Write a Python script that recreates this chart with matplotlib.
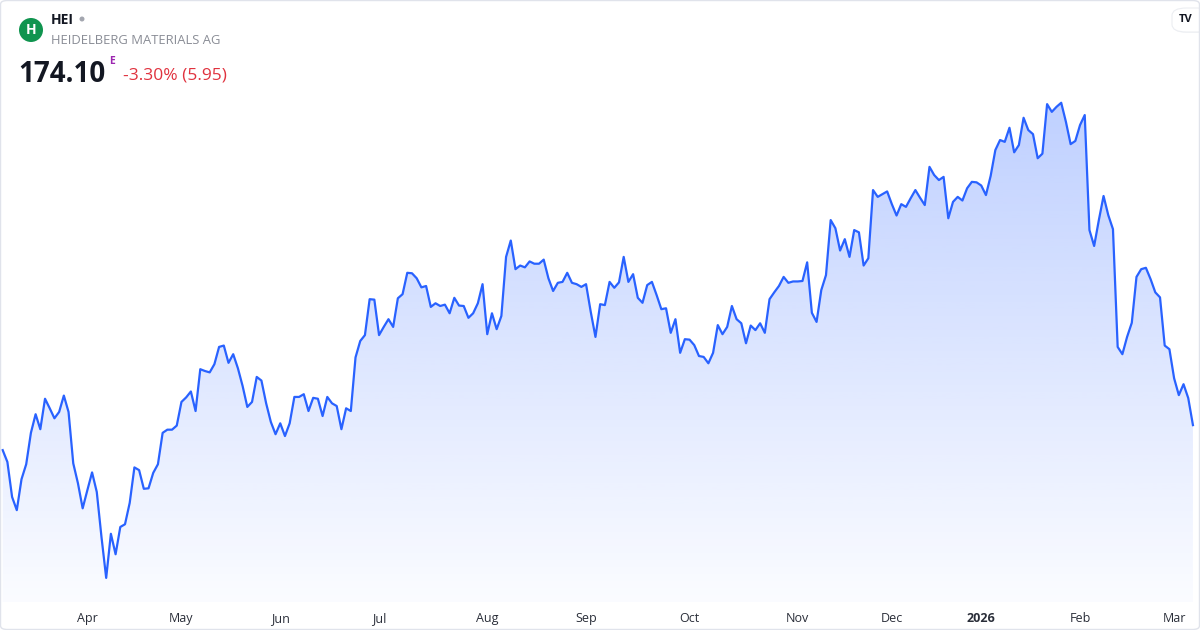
import numpy as np
import pandas as pd
import matplotlib
matplotlib.use('Agg')
import matplotlib.pyplot as plt
from matplotlib.patches import Circle, FancyBboxPatch, Polygon

plt.rcParams['font.family'] = ['Open Sans', 'DejaVu Sans']

ticker = 'HEI'
company = 'HEIDELBERG MATERIALS AG'
last_price = 174.10
change_pct = -3.30
change_abs = 5.95

# xetra closed days in the window
holidays = ['2025-04-18', '2025-04-21', '2025-05-01', '2025-12-24',
            '2025-12-25', '2025-12-26', '2025-12-31', '2026-01-01']
dates = pd.bdate_range('2025-03-06', '2026-03-06')
dates = dates[~dates.isin(pd.to_datetime(holidays))]

# daily close, EUR
close = [
    168.6, 166.0, 158.3, 155.4, 162.2, 165.5, 172.4, 176.5, 173.2, 179.9,
    177.8, 175.6, 177.0, 180.6, 177.0, 165.7, 161.3, 155.8, 159.8, 163.7,
    159.4, 149.5, 140.5, 150.2, 145.7, 151.7, 152.3, 157.0, 164.8, 164.2,
    160.1, 160.2, 163.6, 165.5, 172.4, 173.1, 173.1, 174.0, 179.2, 180.2,
    181.5, 177.2, 186.4, 186.0, 185.7, 187.5, 191.3, 191.6, 187.8, 189.7,
    186.6, 182.7, 178.1, 179.2, 184.7, 183.9, 178.9, 174.8, 172.1, 174.5,
    171.7, 174.5, 180.3, 180.3, 180.9, 177.2, 180.1, 179.9, 176.1, 180.3,
    178.9, 178.3, 173.2, 177.8, 177.2, 189.0, 192.6, 193.9, 201.8, 201.7,
    193.9, 195.7, 197.4, 195.7, 202.0, 202.9, 207.6, 207.5, 206.4, 204.4,
    204.7, 200.1, 200.9, 200.3, 200.6, 198.7, 202.1, 200.4, 200.3, 197.7,
    198.7, 200.9, 205.1, 194.1, 198.7, 195.2, 198.1, 211.1, 214.7, 208.4,
    209.2, 208.8, 210.1, 209.6, 209.6, 210.5, 206.4, 203.6, 205.4, 205.6,
    207.6, 205.4, 205.1, 204.5, 205.1, 199.0, 193.5, 200.7, 200.5, 205.6,
    204.3, 205.5, 211.1, 205.6, 207.3, 202.1, 201.0, 204.9, 205.6, 202.7,
    199.6, 199.8, 194.4, 197.4, 190.0, 193.0, 192.9, 191.7, 189.3, 189.1,
    187.7, 190.0, 196.1, 194.1, 195.7, 200.3, 197.4, 196.5, 192.1, 196.0,
    195.0, 196.5, 194.4, 201.8, 203.3, 204.7, 206.7, 205.4, 205.7, 205.7,
    205.8, 209.9, 198.8, 196.8, 203.8, 207.1, 219.2, 217.4, 212.5, 215.0,
    211.1, 217.0, 216.5, 209.2, 210.8, 225.8, 224.3, 224.9, 225.5, 222.7,
    220.2, 222.7, 222.1, 224.0, 225.8, 224.1, 222.5, 230.9, 229.1, 228.0,
    228.7, 219.6, 223.2, 224.3, 223.5, 226.2, 227.6, 227.5, 226.8, 224.7,
    228.9, 234.6, 236.8, 236.4, 239.5, 234.1, 235.7, 241.7, 239.0, 238.1,
    232.8, 233.8, 244.7, 243.0, 244.1, 245.0, 240.8, 235.9, 236.6, 240.1,
    242.3, 217.0, 213.5, 219.2, 224.5, 220.3, 217.2, 191.3, 189.7, 193.5,
    196.6, 206.7, 208.4, 208.7, 206.2, 203.3, 202.2, 191.6, 190.8, 184.4,
    180.7, 183.1, 180.05, 174.10,
]

W, H = 1200, 630
fig = plt.figure(figsize=(W / 100, H / 100), dpi=100)
fig.patch.set_facecolor('white')

ax = fig.add_axes([0, 28 / H, 1, 602 / H])
ax.set_facecolor('none')
x = np.arange(len(close))
y = np.array(close)

x0, x1 = -0.57, len(close) - 1 + 1.5
y0, y1 = 135.2, 267.6
ax.set_xlim(x0, x1)
ax.set_ylim(y0, y1)

# gradient area under the line
n = 256
rgba = np.zeros((n, 1, 4))
rgba[..., 0] = 41 / 255
rgba[..., 1] = 98 / 255
rgba[..., 2] = 1.0
rgba[:, 0, 3] = np.linspace(0.30, 0.02, n)
im = ax.imshow(rgba, extent=[x0, x1, y0, y.max()], aspect='auto',
               origin='upper', zorder=1, interpolation='bilinear')
poly = Polygon(np.column_stack([np.r_[x[0], x, x[-1]], np.r_[y0, y, y0]]),
               closed=True, facecolor='none', edgecolor='none')
ax.add_patch(poly)
im.set_clip_path(poly)

ax.plot(x, y, color='#2962ff', lw=1.6, solid_joinstyle='round', zorder=3)

# month ticks at first trading day of each month
ticks, labels = [], []
for i in range(1, len(dates)):
    if dates[i].month != dates[i - 1].month:
        ticks.append(i)
        labels.append(str(dates[i].year) if dates[i].month == 1 else dates[i].strftime('%b'))
ax.set_xticks(ticks)
ax.set_xticklabels(labels)
for t in ax.get_xticklabels():
    if t.get_text().isdigit():
        t.set_fontweight('bold')
ax.tick_params(axis='x', length=0, pad=7, labelsize=9, labelcolor='#2a2e39')
ax.set_yticks([])
for s in ax.spines.values():
    s.set_visible(False)

# header
def fx(px):
    return px / W

def fy(py):
    return 1 - py / H

fig.patches.append(Circle((31 / 100, (H - 30) / 100), 0.12, transform=fig.dpi_scale_trans,
                          facecolor='#10944f', edgecolor='none'))
fig.text(fx(31), fy(30), 'H', color='white', fontsize=10, fontweight='bold',
         ha='center', va='center')
fig.text(fx(51), fy(20), ticker, color='#131722', fontsize=10, fontweight='bold',
         ha='left', va='center')
fig.patches.append(Circle((82 / 100, (H - 19) / 100), 0.025, transform=fig.dpi_scale_trans,
                          facecolor='#a3a6af', edgecolor='none'))
fig.text(fx(51), fy(41), company, color='#8a8d96', fontsize=9.4,
         ha='left', va='center')
fig.text(fx(18), fy(74), f'{last_price:.2f}', color='#131722', fontsize=20,
         fontweight='bold', ha='left', va='center')
fig.text(fx(109), fy(61), 'E', color='#9c27b0', fontsize=7.5, fontweight='bold',
         ha='left', va='center')
fig.text(fx(123), fy(76), f'{change_pct:.2f}% ({change_abs:.2f})', color='#e0323e',
         fontsize=12.5, ha='left', va='center')

# tradingview badge top right
fig.patches.append(FancyBboxPatch((fx(1173), fy(33)), fx(40), 25 / H,
                                  boxstyle='round,pad=0,rounding_size=0.012',
                                  transform=fig.transFigure, facecolor='#f4f5f7',
                                  edgecolor='none', alpha=0.9))
fig.patches.append(FancyBboxPatch((fx(1172), fy(32)), fx(40), 24 / H,
                                  boxstyle='round,pad=0,rounding_size=0.012',
                                  transform=fig.transFigure, facecolor='white',
                                  edgecolor='#eceef2', lw=0.8))
fig.text(fx(1186), fy(20), 'TV', color='#131722', fontsize=8, fontweight='bold',
         ha='center', va='center')

# outer frame
fig.patches.append(FancyBboxPatch((0.5 / W, 0.5 / H), 1 - 1 / W, 1 - 1 / H,
                                  boxstyle='round,pad=0,rounding_size=0.006',
                                  transform=fig.transFigure, facecolor='none',
                                  edgecolor='#e0e3eb', lw=1))

fig.savefig('out.png', dpi=100)
